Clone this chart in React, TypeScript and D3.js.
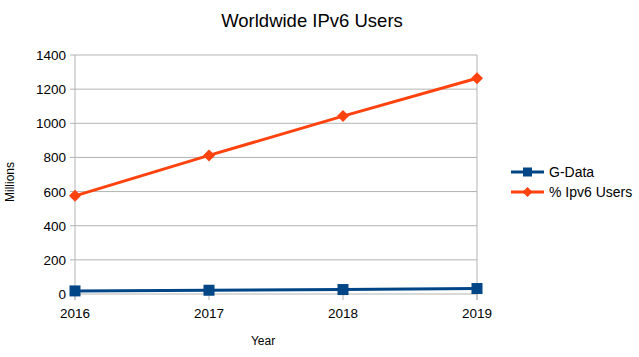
import React from "react";
import * as d3 from "d3";

const years = ["2016", "2017", "2018", "2019"];
const gData = [18, 22, 26, 32];
const ipv6Users = [575, 812, 1042, 1264];
const yTicks = [0, 200, 400, 600, 800, 1000, 1200, 1400];
const seriesNames = ["G-Data", "% Ipv6 Users"];
const seriesColors = ["#004586", "#ff420e"];

export default function App() {
  const W = 639, H = 357;
  const x = d3.scalePoint<string>().domain(years).range([75, 477]);
  const y = d3.scaleLinear().domain([0, 1400]).range([294, 55]);
  const line = d3.line<number>().x((_, i) => x(years[i])!).y(d => y(d));
  const font = "'Liberation Sans', Arial, sans-serif";
  const series = [gData, ipv6Users];
  return (
    <svg width={W} height={H} style={{ position: "absolute", left: 0, top: 0 }} fontFamily={font}>
      <rect width={W} height={H} fill="#fff" />
      <text x={312} y={27} textAnchor="middle" fontSize={18.5}>Worldwide IPv6 Users</text>
      {yTicks.map(t => (
        <g key={t}>
          <line x1={70} x2={477} y1={y(t)} y2={y(t)} stroke="#b3b3b3" />
          <text x={66} y={y(t) + 5} textAnchor="end" fontSize={13.5}>{t}</text>
        </g>
      ))}
      <line x1={75} x2={75} y1={55} y2={300} stroke="#b3b3b3" />
      <line x1={477} x2={477} y1={55} y2={300} stroke="#b3b3b3" />
      {years.map(yr => (
        <g key={yr}>
          <line x1={x(yr)} x2={x(yr)} y1={294} y2={300} stroke="#b3b3b3" />
          <text x={x(yr)} y={318} textAnchor="middle" fontSize={13.5}>{yr}</text>
        </g>
      ))}
      <text x={263} y={345} textAnchor="middle" fontSize={12}>Year</text>
      <text transform="translate(14,182) rotate(-90)" textAnchor="middle" fontSize={12}>Millions</text>
      {series.map((s, si) => (
        <g key={si}>
          <path d={line(s)!} fill="none" stroke={seriesColors[si]} strokeWidth={3} />
          {s.map((v, i) => si === 0 ? (
            <rect key={i} x={x(years[i])! - 5.5} y={y(v) - 5.5} width={11} height={11} fill={seriesColors[si]} />
          ) : (
            <path key={i} d={`M${x(years[i])},${y(v) - 6}l6,6l-6,6l-6,-6z`} fill={seriesColors[si]} />
          ))}
        </g>
      ))}
      {seriesNames.map((n, i) => {
        const ly = 172 + i * 20;
        return (
          <g key={n}>
            <line x1={511} x2={544} y1={ly} y2={ly} stroke={seriesColors[i]} strokeWidth={3} />
            {i === 0 ? (
              <rect x={523} y={ly - 4.5} width={9} height={9} fill={seriesColors[i]} />
            ) : (
              <path d={`M527.5,${ly - 5}l5,5l-5,5l-5,-5z`} fill={seriesColors[i]} />
            )}
            <text x={549} y={ly + 5} fontSize={14}>{n}</text>
          </g>
        );
      })}
    </svg>
  );
}
